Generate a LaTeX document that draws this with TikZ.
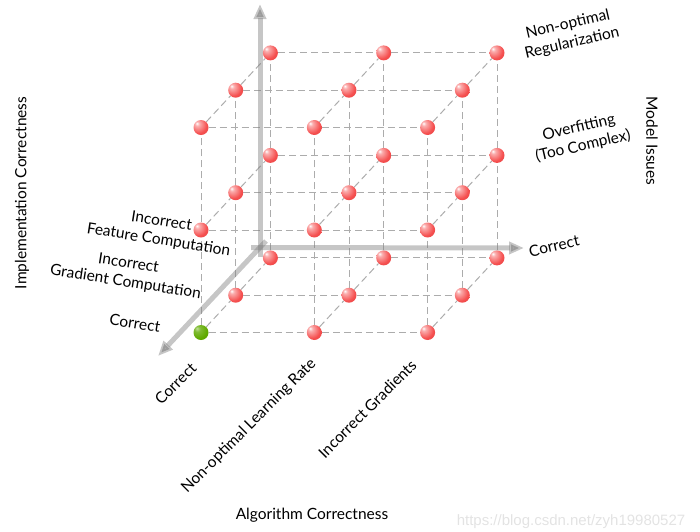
\documentclass[tikz,border=0pt]{standalone}
\usepackage{fontspec}
\setmainfont{Lato}
\newfontfamily\markfont{Liberation Sans}
\usetikzlibrary{arrows.meta}
\definecolor{ballred}{RGB}{245,78,78}
\definecolor{ballgreen}{RGB}{96,170,0}
\pgfdeclareradialshading{redball}{\pgfpoint{-14bp}{14bp}}{color(0bp)=(white); color(7bp)=(ballred!45!white); color(28bp)=(ballred); color(55bp)=(ballred!88!black); color(75bp)=(ballred!80!black)}
\pgfdeclareradialshading{greenball}{\pgfpoint{-14bp}{14bp}}{color(0bp)=(ballgreen!40!white); color(10bp)=(ballgreen!80!white); color(28bp)=(ballgreen); color(55bp)=(ballgreen!85!black); color(75bp)=(ballgreen!75!black)}
\tikzset{
	ball/.style={circle, inner sep=0pt, minimum size=15pt, shading=redball},
	goodball/.style={circle, inner sep=0pt, minimum size=15pt, shading=greenball},
	gridline/.style={draw=gray!65, dash pattern=on 7pt off 4pt, line width=1pt},
	axis/.style={line width=5pt, draw=gray, draw opacity=0.45, fill opacity=0.6, -{Triangle[length=15pt, width=12pt]}},
	lbl/.style={font=\fontsize{15.5}{19}\selectfont, align=center}
}

\begin{document}
\begin{tikzpicture}[x=1pt, y=-1pt]
	\useasboundingbox (0,0) rectangle (700,531);

	% lattice of 27 points: i = algorithm, j = implementation, k = model
	\foreach \i in {0,1,2}
		\foreach \j in {0,1,2}
			\foreach \k in {0,1,2} {
				\def\kind{ball}
				\ifnum\i\j\k=0 \def\kind{goodball}\fi
				\node[\kind] (p\i\j\k) at ({201+113.3*\i+34.7*\k}, {332.5-102.5*\j-37.3*\k}) {};
			}

	\foreach \a in {0,1,2}
		\foreach \b in {0,1,2} {
			\draw[gridline] (p0\a\b) -- (p1\a\b) -- (p2\a\b);
			\draw[gridline] (p\a0\b) -- (p\a1\b) -- (p\a2\b);
			\draw[gridline] (p\a\b0) -- (p\a\b1) -- (p\a\b2);
		}

	% axes
	\coordinate (vstart) at (260,257);
	\coordinate (vtip) at (260,4);
	\coordinate (hstart) at (251,247.5);
	\coordinate (htip) at (524,248);
	\coordinate (dstart) at (266,241);
	\coordinate (dtip) at (158,356);
	\draw[axis] (vstart) -- (vtip);
	\draw[axis] (hstart) -- (htip);
	\draw[axis] (dstart) -- (dtip);

	% axis titles
	\node[lbl, rotate=90] (impl) at (22,193) {Implementation Correctness};
	\node[lbl, rotate=-90] (model) at (652,141) {Model Issues};
	\node[lbl] (algo) at (312,515) {Algorithm Correctness};

	% model issues values
	\node[lbl, rotate=13] (reg) at (570,34) {Non-optimal\\Regularization};
	\node[lbl, rotate=13] (over) at (581,137) {Overfitting\\(Too Complex)};
	\node[lbl, rotate=13] (mcorr) at (554,246) {Correct};

	% implementation values
	\node[lbl, rotate=-9] (feat) at (160,231) {Incorrect\\Feature Computation};
	\node[lbl, rotate=-9] (grad) at (127,273) {Incorrect\\Gradient Computation};
	\node[lbl, rotate=-9] (icorr) at (135,323) {Correct};

	% algorithm values
	\node[lbl, rotate=45, anchor=east] (acorr) at (196,363) {Correct};
	\node[lbl, rotate=45, anchor=east] (lrate) at (316,359) {Non-optimal Learning Rate};
	\node[lbl, rotate=45, anchor=east] (agrad) at (416,360) {Incorrect Gradients};

	\node[font=\markfont\fontsize{15}{18}\selectfont, text=gray!22] (mark) at (571,522) {https://blog.csdn.net/zyh19980527};
\end{tikzpicture}
\end{document}
